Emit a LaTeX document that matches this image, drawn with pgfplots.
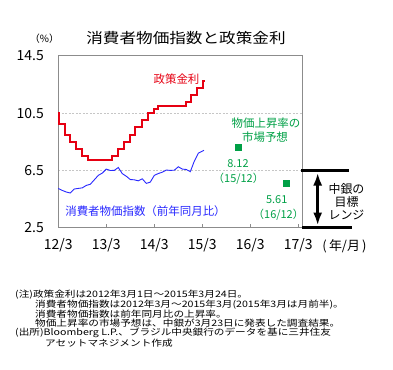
\documentclass[border=0pt]{standalone}
\usepackage{pgfplots}
\pgfplotsset{compat=1.18}
\usepackage{fontspec}
\setmainfont{Noto Sans CJK JP}
\newfontfamily\jpfoot[FakeStretch=1.2]{Noto Sans CJK JP}
\newfontfamily\jptitle[FakeStretch=1.15]{Noto Sans CJK JP}
\usetikzlibrary{arrows.meta}
\definecolor{polred}{RGB}{230,0,18}
\definecolor{cpiblue}{RGB}{40,40,255}
\definecolor{fcgreen}{RGB}{0,160,70}
\definecolor{framegray}{RGB}{140,140,140}
\begin{document}
\begin{tikzpicture}[x=1bp,y=1bp]
\path[use as bounding box] (0,0) rectangle (393,370);
\begin{axis}[at={(58.3bp,142.3bp)}, anchor=south west, scale only axis,
  width=244bp, height=172bp,
  xmin=0, xmax=61, ymin=2.5, ymax=14.5, clip=false,
  axis line style={framegray, line width=1.2bp},
  xtick={0,12,24,36,48,60},
  xticklabels={12/3,13/3,14/3,15/3,16/3,17/3},
  ytick={2.5,6.5,10.5,14.5},
  yticklabels={2.5,6.5,10.5,14.5},
  tick label style={font=\fontsize{14}{14}\selectfont, inner sep=0pt},
  xticklabel style={anchor=base, yshift=-22.3bp},
  yticklabel style={anchor=east, xshift=-14.3bp},
  xtick pos=bottom, ytick pos=left,
  tick align=inside, major tick length=4bp,
  xtick style={framegray, line width=0.8bp},
  ytick style={draw=none},
  ymajorgrids, grid style={dash pattern=on 2bp off 1.5bp, gray!45, line width=0.7bp},
]
\addplot[const plot, polred, line width=2bp] coordinates {
(0,10.5) (0.2,9.75) (1.57,9.0) (2.97,8.5) (4.33,8.0) (5.93,7.5) (7.3,7.25)
(13.53,7.5) (14.93,8.0) (16.3,8.5) (17.9,9.0) (19.27,9.5) (20.87,10.0)
(22.47,10.5) (23.87,10.75) (25.03,11.0) (31.93,11.25) (33.07,11.75)
(34.67,12.25) (36.1,12.75) (36.77,12.75)};
\addplot[cpiblue, line width=0.9bp] coordinates {
(0,5.24) (1,5.10) (2,4.99) (3,4.92) (4,5.20) (5,5.24) (6,5.28) (7,5.45)
(8,5.53) (9,5.84) (10,6.15) (11,6.31) (12,6.59) (13,6.49) (14,6.50)
(15,6.70) (16,6.27) (17,6.09) (18,5.86) (19,5.84) (20,5.77) (21,5.91)
(22,5.59) (23,5.68) (24,6.15) (25,6.28) (26,6.37) (27,6.52) (28,6.50)
(29,6.51) (30,6.75) (31,6.59) (32,6.56) (33,6.41) (34,7.14) (35,7.70)
(36.4,7.90)};
\addplot[only marks, mark=square*, mark size=3bp, fcgreen] coordinates {(45,8.12) (57,5.61)};
\draw[black, line width=2.5bp] (axis cs:60.8,6.5) -- (axis cs:72.8,6.5);
\draw[black, line width=2.5bp] (axis cs:61,2.5) -- (axis cs:73.5,2.5);
\draw[black, line width=2.8bp, {Latex[length=13bp,width=9bp]}-{Latex[length=13bp,width=9bp]}] (axis cs:64.85,6.35) -- (axis cs:64.85,2.65);
\end{axis}
% titles and labels
\node[font=\jptitle\fontsize{14.5}{15}\selectfont, inner sep=0pt] at (186,331.5) {消費者物価指数と政策金利};
\node[font=\fontsize{10}{10}\selectfont, inner sep=0pt] at (44.5,331) {（\%）};
\node[font=\fontsize{13}{13}\selectfont, inner sep=0pt, anchor=base] at (344.5,120) {(\,年/月\,)};
\node[font=\fontsize{11.5}{12}\selectfont, text=polred, inner sep=0pt] at (176.5,291) {政策金利};
\node[font=\fontsize{11.5}{12}\selectfont, text=fcgreen, inner sep=0pt] at (266,247.3) {物価上昇率の};
\node[font=\fontsize{11.5}{12}\selectfont, text=fcgreen, inner sep=0pt] at (265,233.3) {市場予想};
\node[font=\fontsize{11}{12}\selectfont, text=fcgreen, inner sep=0pt] at (238,206.7) {8.12};
\node[font=\fontsize{11}{12}\selectfont, text=fcgreen, inner sep=0pt] at (238.5,191.7) {（15/12）};
\node[font=\fontsize{11}{12}\selectfont, text=fcgreen, inner sep=0pt] at (276.7,170.7) {5.61};
\node[font=\fontsize{11}{12}\selectfont, text=fcgreen, inner sep=0pt] at (278.5,155) {（16/12）};
\node[font=\fontsize{11.5}{12}\selectfont, text=cpiblue, inner sep=0pt] at (145.5,159) {消費者物価指数（前年同月比）};
\node[font=\fontsize{12}{12}\selectfont, inner sep=0pt] at (346.5,181) {中銀の};
\node[font=\fontsize{12}{12}\selectfont, inner sep=0pt] at (346.5,168.3) {目標};
\node[font=\fontsize{12}{12}\selectfont, inner sep=0pt] at (346.5,155) {レンジ};
% footnotes
\begin{scope}[every node/.style={font=\jpfoot\fontsize{8.9}{9}\selectfont, inner sep=0pt, anchor=west}]
\node at (15,75) {(注)政策金利は2012年3月1日～2015年3月24日。};
\node at (35,65) {消費者物価指数は2012年3月～2015年3月(2015年3月は月前半)。};
\node at (35,55.7) {消費者物価指数は前年同月比の上昇率。};
\node at (35,46.7) {物価上昇率の市場予想は、中銀が3月23日に発表した調査結果。};
\node at (15,36.7) {(出所)Bloomberg L.P.、ブラジル中央銀行のデータを基に三井住友};
\node at (45,27.3) {アセットマネジメント作成};
\end{scope}
\end{tikzpicture}
\end{document}
